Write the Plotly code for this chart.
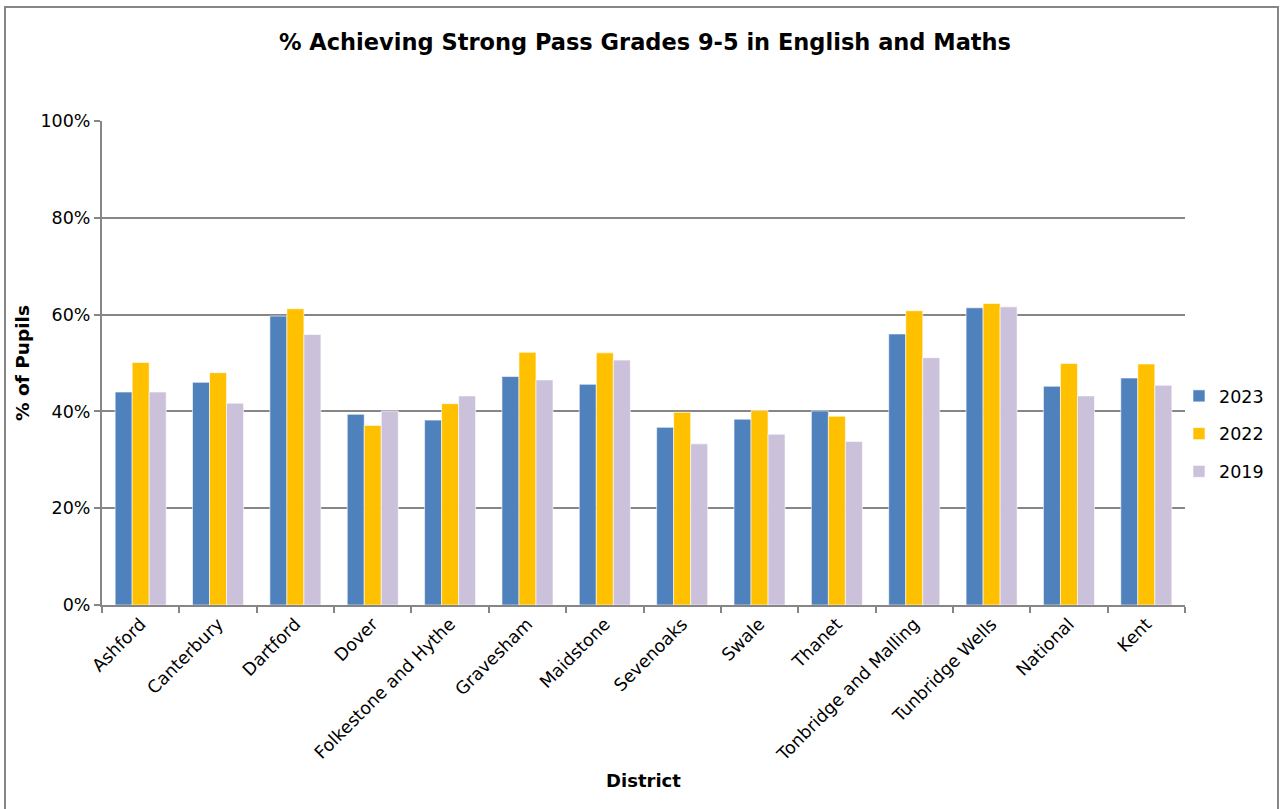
import plotly.graph_objects as go

districts = ["Ashford", "Canterbury", "Dartford", "Dover", "Folkestone and Hythe",
             "Gravesham", "Maidstone", "Sevenoaks", "Swale", "Thanet",
             "Tonbridge and Malling", "Tunbridge Wells", "National", "Kent"]
pct_2023 = [44.0, 46.0, 59.7, 39.4, 38.2, 47.2, 45.6, 36.7, 38.4, 40.1, 56.0, 61.4, 45.2, 46.9]
pct_2022 = [50.1, 48.0, 61.2, 37.1, 41.6, 52.2, 52.1, 39.8, 40.2, 39.0, 60.8, 62.3, 49.9, 49.8]
pct_2019 = [44.0, 41.7, 55.9, 40.1, 43.2, 46.5, 50.6, 33.3, 35.3, 33.8, 51.1, 61.6, 43.2, 45.4]

series = [("2023", pct_2023, "#4F81BD"),
          ("2022", pct_2022, "#FFC000"),
          ("2019", pct_2019, "#CCC1DA")]

FONT = "DejaVu Sans, Verdana, sans-serif"
TICK = 17.5

fig = go.Figure()
for name, vals, col in series:
    fig.add_trace(go.Bar(
        x=districts, y=[v / 100 for v in vals], name=name, legendgroup=name,
        marker=dict(color=col, line=dict(color="rgba(255,255,255,0.6)", width=1)),
    ))

W, H = 1283, 809
L, R, T, B = 102, 1185, 121, 605
pw, ph = R - L, B - T

fig.update_layout(
    width=W, height=H,
    margin=dict(l=L, r=W - R, t=T, b=H - B, autoexpand=False),
    paper_bgcolor="white", plot_bgcolor="white",
    font=dict(family=FONT, size=TICK, color="black"),
    barmode="group", bargap=0.34, bargroupgap=0,
    title=dict(text="<b>% Achieving Strong Pass Grades 9-5 in English and Maths</b>",
               x=645 / W, xanchor="center", y=1 - 42 / H, yanchor="middle",
               font=dict(size=22.5)),
    legend=dict(x=(1179 - L) / pw, xanchor="left", y=(605 - 434) / ph, yanchor="middle",
                font=dict(size=TICK), tracegroupgap=12,
                bgcolor="rgba(0,0,0,0)"),
    showlegend=True,
)
fig.update_xaxes(
    showline=True, linecolor="#868686", linewidth=2,
    ticks="outside", tickson="boundaries", ticklen=6, tickcolor="#868686", tickwidth=2,
    tickangle=-45, tickfont=dict(size=TICK),
    title=dict(text="<b>District</b>", font=dict(size=18), standoff=10),
)
fig.update_yaxes(
    range=[0, 1], dtick=0.2, tickformat=".0%",
    showgrid=True, gridcolor="#868686", gridwidth=2,
    showline=True, linecolor="#868686", linewidth=2,
    ticks="outside", ticklen=6, tickcolor="#868686", tickwidth=2,
    tickfont=dict(size=TICK), zeroline=False,
    title=dict(text="<b>% of Pupils</b>", font=dict(size=18.5), standoff=6),
)
# outer chart frame
fig.add_shape(type="rect", xref="paper", yref="paper",
              x0=(5 - L) / pw, x1=(1278 - L) / pw,
              y0=(B - 815) / ph, y1=(B - 7) / ph,
              line=dict(color="#868686", width=2), fillcolor="rgba(0,0,0,0)", layer="below")

fig.write_html("out.html", config={"displayModeBar": False},
               post_script="document.body.style.margin='0';")
